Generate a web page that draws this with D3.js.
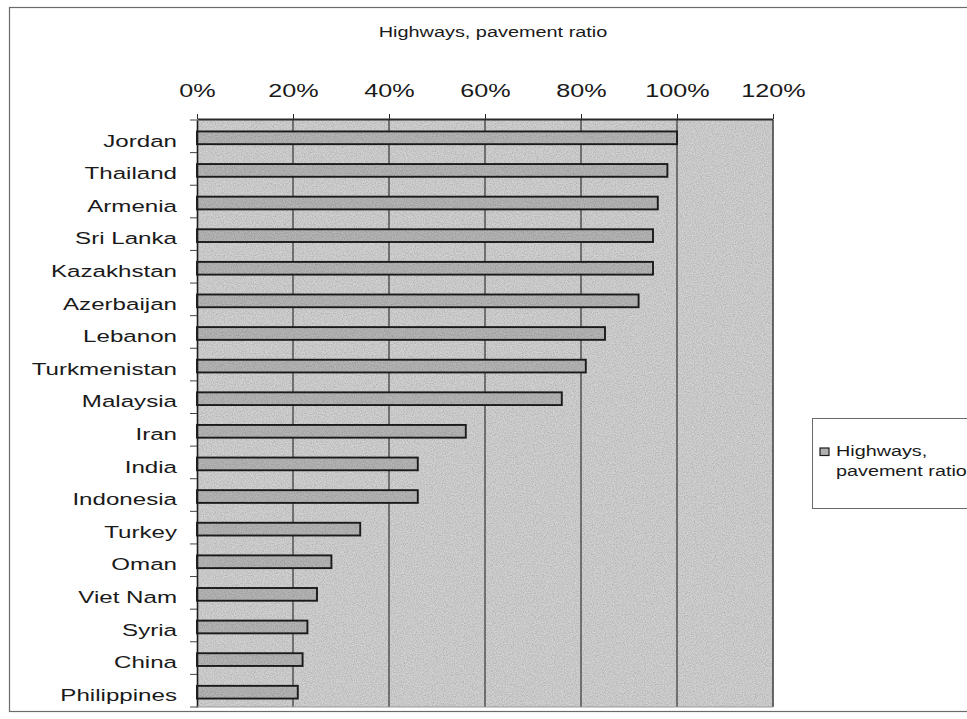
<!DOCTYPE html>
<html>
<head>
<meta charset="utf-8">
<script src="https://cdn.jsdelivr.net/npm/d3@7"></script>
<style>
  html, body { margin: 0; padding: 0; background: #fff; }
  svg { display: block; font-family: "Liberation Sans", Arial, Helvetica, sans-serif; }
</style>
</head>
<body>
<svg id="chart" width="967" height="719"></svg>
<script>
// Share of paved highways by country
const countries = [
  "Jordan", "Thailand", "Armenia", "Sri Lanka", "Kazakhstan", "Azerbaijan",
  "Lebanon", "Turkmenistan", "Malaysia", "Iran", "India", "Indonesia",
  "Turkey", "Oman", "Viet Nam", "Syria", "China", "Philippines"
];
const pavedShare = [100, 98, 96, 95, 95, 92, 85, 81, 76, 56, 46, 46, 34, 28, 25, 23, 22, 21];
const xTicks = [0, 20, 40, 60, 80, 100, 120];
const chartTitle = "Highways, pavement ratio";
const seriesName = ["Highways,", "pavement ratio"];

const rows = countries.map((c, i) => ({ country: c, value: pavedShare[i] }));

const svg = d3.select("#chart");
const plot = { left: 197, right: 773, top: 120, bottom: 707 };
const stretch = 1.42;   // wide set lettering

const x = d3.scaleLinear().domain([0, 120]).range([plot.left, plot.right]);
const y = d3.scaleBand().domain(countries).range([plot.top, plot.bottom]).paddingInner(0.61).paddingOuter(0.305);

// fine grain for the shaded plot area
const defs = svg.append("defs");
const grain = defs.append("filter").attr("id", "grain")
  .attr("x", 0).attr("y", 0).attr("width", 1).attr("height", 1);
grain.append("feTurbulence").attr("type", "fractalNoise").attr("baseFrequency", 0.9)
  .attr("numOctaves", 2).attr("seed", 3).attr("result", "n");
grain.append("feColorMatrix").attr("in", "n").attr("type", "matrix")
  .attr("values", "0 0 0 0 0  0 0 0 0 0  0 0 0 0 0  0 0 0 0.3 -0.1");

// outer frame
svg.append("rect")
  .attr("x", 9.5).attr("y", 7.5).attr("width", 1000).attr("height", 704)
  .attr("fill", "none").attr("stroke", "#6a6a6a").attr("stroke-width", 1.2);

// title
svg.append("text")
  .attr("transform", `translate(493,36.5) scale(${stretch},1)`)
  .attr("text-anchor", "middle")
  .attr("font-size", 14).attr("fill", "#1a1a1a")
  .text(chartTitle);

// plot background
svg.append("rect")
  .attr("x", plot.left).attr("y", plot.top)
  .attr("width", plot.right - plot.left).attr("height", plot.bottom - plot.top)
  .attr("fill", "#d2d2d2");

// vertical gridlines
svg.append("g").selectAll("line")
  .data(xTicks.slice(1))
  .join("line")
  .attr("x1", d => x(d)).attr("x2", d => x(d))
  .attr("y1", plot.top).attr("y2", plot.bottom)
  .attr("stroke", "#2a2a2a").attr("stroke-width", 1.1);

// bars
const barShift = 1.5;
svg.append("g").selectAll("rect")
  .data(rows)
  .join("rect")
  .attr("x", x(0))
  .attr("y", d => y(d.country) + barShift)
  .attr("width", d => x(d.value) - x(0))
  .attr("height", y.bandwidth())
  .attr("fill", "#b6b6b6")
  .attr("stroke", "#1c1c1c").attr("stroke-width", 1.9);

// grain overlay
svg.append("rect")
  .attr("x", plot.left).attr("y", plot.top)
  .attr("width", plot.right - plot.left).attr("height", plot.bottom - plot.top)
  .attr("filter", "url(#grain)").attr("fill", "#000");

// top axis
const xAxis = svg.append("g")
  .attr("transform", `translate(0,${plot.top - 1})`)
  .call(d3.axisTop(x).tickValues(xTicks).tickFormat(d => d + "%").tickSize(5).tickSizeOuter(0));
xAxis.select(".domain").attr("stroke", "#2a2a2a").attr("stroke-width", 1.8);
xAxis.selectAll(".tick line").attr("stroke", "#2a2a2a");
xAxis.selectAll(".tick text")
  .attr("y", -22).attr("dy", 0)
  .attr("transform", `scale(1.36,1)`)
  .attr("font-size", 18.5).attr("fill", "#1a1a1a")
  .attr("font-family", "Liberation Sans, Arial, sans-serif");

// left axis: labels
const yAxis = svg.append("g")
  .attr("transform", `translate(${plot.left},0)`)
  .call(d3.axisLeft(y).tickSize(0).tickPadding(0));
yAxis.select(".domain").attr("stroke", "#1c1c1c").attr("stroke-width", 1.6);
yAxis.selectAll(".tick text")
  .attr("x", -20 / stretch).attr("dy", "0.6em")
  .attr("transform", `scale(${stretch},1)`)
  .attr("font-size", 17).attr("fill", "#1a1a1a")
  .attr("font-family", "Liberation Sans, Arial, sans-serif");

// category boundary ticks
const bounds = countries.map((c, i) => plot.top + i * y.step());
bounds.push(plot.bottom);
svg.append("g").selectAll("line")
  .data(bounds)
  .join("line")
  .attr("x1", plot.left - 7).attr("x2", plot.left)
  .attr("y1", d => d).attr("y2", d => d)
  .attr("stroke", "#444").attr("stroke-width", 1);

// plot right / bottom edges
svg.append("line")
  .attr("x1", plot.right).attr("x2", plot.right).attr("y1", plot.top).attr("y2", plot.bottom)
  .attr("stroke", "#555").attr("stroke-width", 1.2);
svg.append("line")
  .attr("x1", plot.left).attr("x2", plot.right).attr("y1", plot.bottom).attr("y2", plot.bottom)
  .attr("stroke", "#9a9a9a").attr("stroke-width", 1);

// legend
const legend = svg.append("g");
legend.append("rect")
  .attr("x", 812.5).attr("y", 418.5).attr("width", 200).attr("height", 90)
  .attr("fill", "#fff").attr("stroke", "#6a6a6a").attr("stroke-width", 1);
legend.append("rect")
  .attr("x", 820).attr("y", 448).attr("width", 9).attr("height", 7.5)
  .attr("fill", "#b0b0b0").attr("stroke", "#1c1c1c").attr("stroke-width", 1.2);
legend.selectAll("text.lab")
  .data(seriesName)
  .join("text")
  .attr("class", "lab")
  .attr("transform", (d, i) => `translate(836,${456 + i * 20}) scale(1.32,1)`)
  .attr("font-size", 15).attr("fill", "#1a1a1a")
  .text(d => d);
</script>
</body>
</html>
